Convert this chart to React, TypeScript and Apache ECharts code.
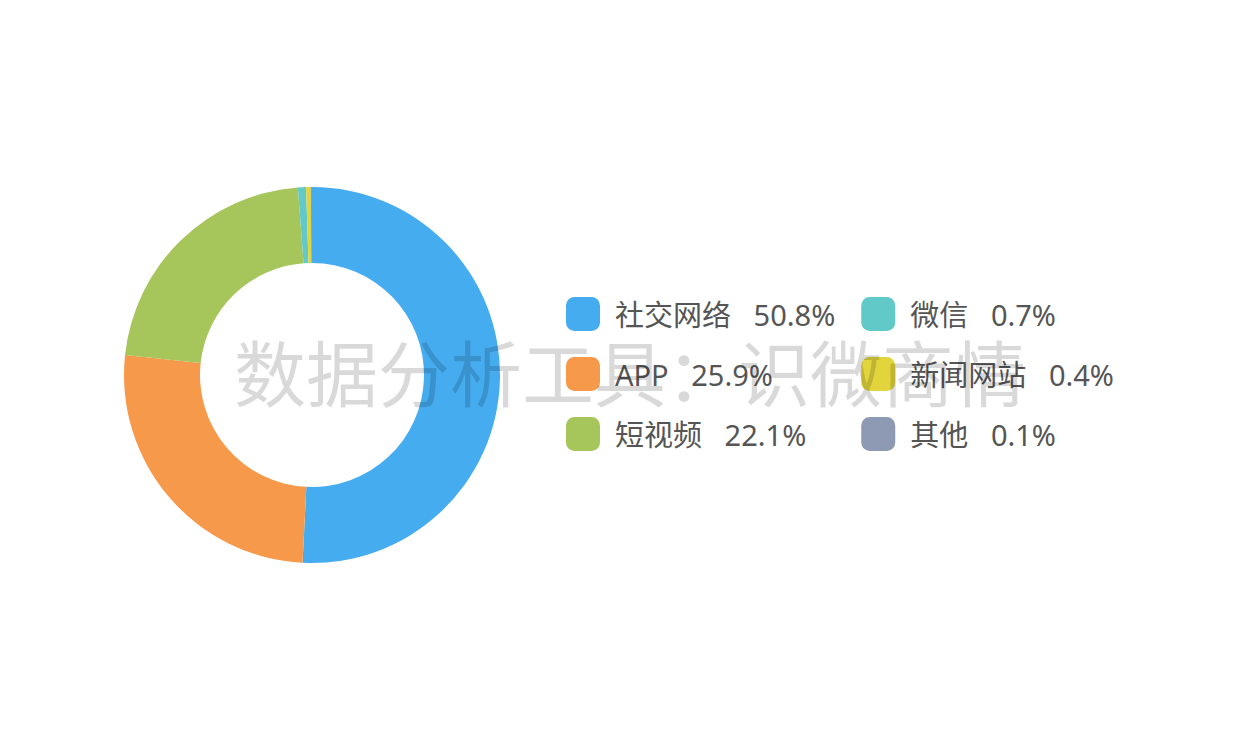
import React, { useEffect, useRef } from "react";
import * as echarts from "echarts";

const categories = ["社交网络", "APP", "短视频", "微信", "新闻网站", "其他"];
const values = [50.8, 25.9, 22.1, 0.7, 0.4, 0.1];
const colors = ["#45acf0", "#f7994a", "#a6c55b", "#62c9c9", "#e2d43c", "#8e99b4"];
const watermark = "数据分析工具：识微商情";

export default function App() {
  const ref = useRef<HTMLDivElement>(null);
  useEffect(() => {
    if (!ref.current) return;
    const chart = echarts.init(ref.current, null, { renderer: "svg" });
    const data = categories.map((name, i) => ({ name, value: values[i] }));
    chart.setOption({
      animation: false,
      color: colors,
      legend: {
        orient: "vertical",
        left: 566,
        top: 297,
        padding: 0,
        height: 180,
        itemWidth: 34,
        itemHeight: 34,
        itemGap: 26,
        icon: "roundRect",
        formatter: (name: string) => {
          const i = categories.indexOf(name);
          return `${name}   ${values[i]}%`;
        },
        textStyle: {
          fontSize: 29,
          color: "#555",
          fontFamily: "'Noto Sans', 'Noto Sans CJK SC'",
          padding: [0, 0, 0, 10],
        },
        data: categories,
      },
      graphic: [
        {
          type: "text",
          x: 630,
          y: 369,
          z: 100,
          silent: true,
          style: {
            text: watermark,
            fontSize: 72,
            fontFamily: "Noto Sans CJK SC",
            fill: "rgba(0,0,0,0.15)",
            align: "center",
            verticalAlign: "middle",
          },
        },
      ],
      series: [
        {
          type: "pie",
          center: [312, 375],
          radius: [112, 188],
          startAngle: 90,
          label: { show: false },
          labelLine: { show: false },
          data,
        },
      ],
    });
    return () => chart.dispose();
  }, []);
  return (
    <div
      ref={ref}
      style={{ position: "absolute", left: 0, top: 0, width: 1250, height: 750 }}
    />
  );
}
